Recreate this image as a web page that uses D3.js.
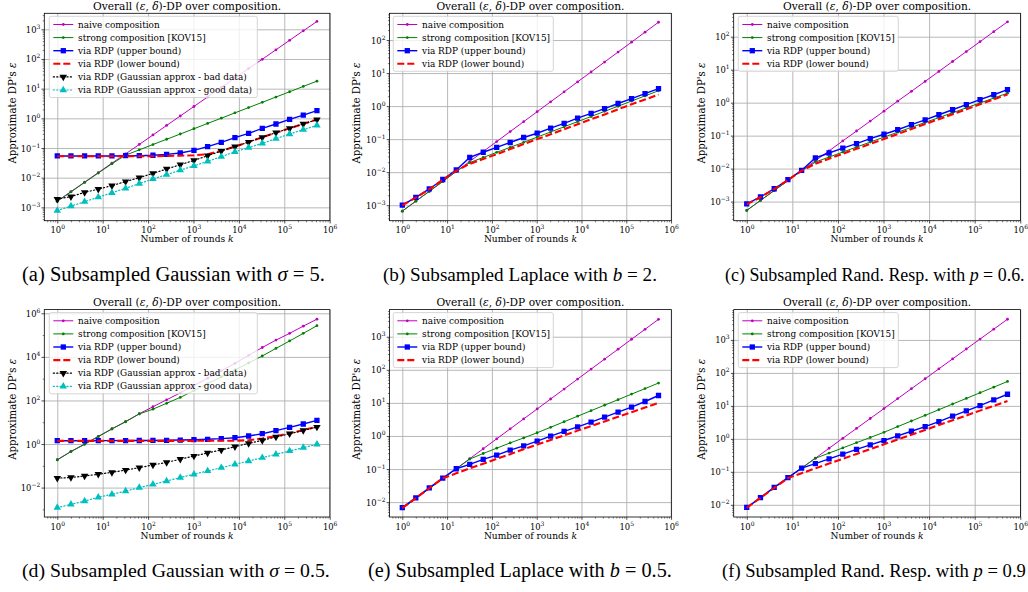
<!DOCTYPE html>
<html><head><meta charset="utf-8">
<script src="https://cdn.jsdelivr.net/npm/d3@7"></script>
<style>body{margin:0;background:#fff}svg{display:block}</style>
</head><body>
<svg id="c" width="1028" height="592"></svg>
<script>
// ---------- data ----------
const rounds = [1,2,4,8,16,32,64,128,256,512,1024,2048,4096,8192,16384,32768,65536,131072,262144,524288];
const seriesNames = ["naive composition","strong composition [KOV15]","via RDP (upper bound)","via RDP (lower bound)","via RDP (Gaussian approx - bad data)","via RDP (Gaussian approx - good data)"];
const xTickExps = [0,1,2,3,4,5,6];

// (a) Subsampled Gaussian sigma = 5
const aNaive  = [0.00162,0.00339,0.00708,0.0148,0.0309,0.0631,0.132,0.275,0.575,1.20,2.51,5.25,11.0,22.9,47.9,97.7,204,427,891,1840];
const aStrong = [0.0016,0.0033,0.0069,0.0143,0.0295,0.0575,0.0867,0.131,0.197,0.296,0.447,0.673,1.01,1.53,2.30,3.47,5.22,7.87,11.9,17.9];
const aUpper  = [0.054,0.054,0.054,0.054,0.054,0.055,0.055,0.057,0.061,0.068,0.083,0.111,0.155,0.223,0.312,0.46,0.645,0.92,1.29,1.81];
const aLower  = [0.053,0.053,0.053,0.053,0.053,0.053,0.053,0.053,0.054,0.055,0.057,0.062,0.080,0.112,0.160,0.23,0.33,0.46,0.65,0.91];
const aBad    = [0.0019,0.0023,0.0032,0.0041,0.0054,0.0074,0.010,0.014,0.0196,0.0274,0.038,0.055,0.079,0.111,0.159,0.229,0.33,0.46,0.645,0.90];
const aGood   = [0.00078,0.0011,0.00155,0.0022,0.0031,0.0044,0.0063,0.0091,0.0126,0.018,0.025,0.0355,0.051,0.074,0.103,0.144,0.206,0.297,0.414,0.58];
const aYExps  = [-3,-2,-1,0,1,2,3];

// (b) Subsampled Laplace b = 2
const bNaive  = [0.00066,0.00132,0.00264,0.00528,0.0106,0.0211,0.0422,0.0845,0.169,0.338,0.676,1.35,2.70,5.41,10.8,21.6,43.3,86.5,173,346];
const bStrong = [0.00066,0.00132,0.0026,0.0052,0.0105,0.0195,0.0278,0.0398,0.0565,0.080,0.115,0.165,0.236,0.338,0.484,0.693,0.99,1.42,2.04,2.92];
const bUpper  = [0.00100,0.00173,0.0031,0.0060,0.0117,0.028,0.040,0.056,0.079,0.112,0.151,0.214,0.30,0.43,0.60,0.84,1.2,1.69,2.40,3.4];
const bLower  = [0.00098,0.0017,0.0030,0.0058,0.011,0.0178,0.025,0.035,0.050,0.071,0.10,0.14,0.20,0.28,0.40,0.56,0.80,1.14,1.58,2.24];
const bYExps  = [-3,-2,-1,0,1,2];

// (c) Subsampled Rand. Resp. p = 0.6
const cNaive  = [0.00054,0.00108,0.00216,0.00432,0.00864,0.0173,0.0346,0.0691,0.138,0.276,0.553,1.11,2.21,4.42,8.85,17.7,35.4,70.8,142,283];
const cStrong = [0.00054,0.00108,0.00216,0.0043,0.0086,0.0158,0.0224,0.0318,0.045,0.0637,0.090,0.127,0.178,0.251,0.352,0.495,0.697,0.98,1.38,1.94];
const cUpper  = [0.00085,0.00138,0.00245,0.0046,0.0089,0.021,0.0297,0.042,0.057,0.081,0.11,0.151,0.215,0.30,0.43,0.61,0.87,1.23,1.74,2.47];
const cLower  = [0.00082,0.00135,0.0024,0.0045,0.0086,0.0141,0.020,0.028,0.040,0.056,0.079,0.112,0.158,0.224,0.316,0.447,0.63,0.89,1.26,1.78];
const cYExps  = [-3,-2,-1,0,1,2];

// (d) Subsampled Gaussian sigma = 0.5
const dNaive  = [0.19,0.457,1.0,2.24,5.01,10.7,24.5,51.3,107,224,479,1047,2291,5012,11749,26915,58884,120226,257040,537032];
const dStrong = [0.186,0.447,0.966,2.19,4.9,10.5,24.0,39.8,74.1,138,282,589,1202,2512,5248,10965,24547,53703,120226,269153];
const dUpper  = [1.42,1.42,1.42,1.43,1.43,1.44,1.45,1.46,1.48,1.52,1.58,1.65,1.76,1.95,2.33,2.97,4.1,5.8,8.3,12.2];
const dLower  = [1.40,1.40,1.40,1.40,1.40,1.40,1.40,1.40,1.40,1.40,1.40,1.41,1.41,1.42,1.50,1.80,2.3,3.1,4.4,6.2];
const dBad    = [0.027,0.029,0.034,0.041,0.050,0.064,0.082,0.109,0.144,0.20,0.28,0.39,0.53,0.75,1.07,1.47,2.1,2.97,4.2,6.0];
const dGood   = [0.0012,0.0017,0.0024,0.0036,0.0049,0.0069,0.010,0.014,0.020,0.029,0.041,0.058,0.082,0.117,0.166,0.236,0.338,0.48,0.68,0.97];
const dYExps  = [-2,0,2,4,6];

// (e) Subsampled Laplace b = 0.5
const eNaive  = [0.0064,0.0128,0.0256,0.0512,0.102,0.205,0.41,0.819,1.64,3.28,6.55,13.1,26.2,52.4,105,210,419,839,1678,3355];
const eStrong = [0.0064,0.0128,0.0256,0.0512,0.102,0.200,0.295,0.427,0.617,0.871,1.25,1.83,2.69,3.95,5.81,8.53,12.5,18.4,27.0,39.8];
const eUpper  = [0.0068,0.0135,0.027,0.053,0.102,0.138,0.195,0.263,0.372,0.50,0.70,0.99,1.37,1.89,2.62,3.7,5.25,7.4,11.0,16.7];
const eLower  = [0.0066,0.0132,0.0263,0.0525,0.0741,0.105,0.145,0.204,0.282,0.398,0.55,0.759,1.05,1.45,2.0,2.75,3.8,5.25,7.24,10.0];
const eYExps  = [-2,-1,0,1,2,3];

// (f) Subsampled Rand. Resp. p = 0.9
const fNaive  = [0.0081,0.0162,0.0324,0.0648,0.130,0.259,0.518,1.04,2.07,4.15,8.29,16.6,33.2,66.4,133,265,531,1062,2123,4247];
const fStrong = [0.0081,0.0162,0.0324,0.0648,0.130,0.257,0.37,0.532,0.766,1.10,1.58,2.35,3.48,5.16,7.66,11.4,16.8,25.0,37.0,55.0];
const fUpper  = [0.0083,0.0166,0.034,0.067,0.129,0.178,0.247,0.345,0.48,0.66,0.89,1.23,1.7,2.36,3.35,4.9,7.1,10.2,15.2,22.5];
const fLower  = [0.0081,0.0162,0.0324,0.0646,0.0912,0.127,0.178,0.249,0.348,0.488,0.682,0.955,1.34,1.87,2.62,3.66,5.13,7.18,10.0,14.1];
const fYExps  = [-2,-1,0,1,2,3];

const captions = [
  {lab:"(a) Subsampled Gaussian with ", sym:"σ", rest:" = 5."},
  {lab:"(b) Subsampled Laplace with ", sym:"b", rest:" = 2."},
  {lab:"(c) Subsampled Rand. Resp. with ", sym:"p", rest:" = 0.6."},
  {lab:"(d) Subsampled Gaussian with ", sym:"σ", rest:" = 0.5."},
  {lab:"(e) Subsampled Laplace with ", sym:"b", rest:" = 0.5."},
  {lab:"(f) Subsampled Rand. Resp. with ", sym:"p", rest:" = 0.9"}
];

// ---------- styles / layout ----------
const styles = [
  {color:"#bf00bf", lw:1.0, dash:null, marker:"dot"},
  {color:"#008000", lw:1.0, dash:null, marker:"dot"},
  {color:"#0000ff", lw:1.4, dash:null, marker:"square"},
  {color:"#ff0000", lw:2.1, dash:"7,3", marker:null},
  {color:"#000000", lw:1.2, dash:"1.2,2.2", marker:"down"},
  {color:"#00bfbf", lw:1.2, dash:"1.2,2.2", marker:"up"}
];
const cols = [
  {x0:44.3,x1:329.9,bx:49.3,bw:208,txt:174,ylab:13},
  {x0:389.5,x1:671.3,bx:393.3,bw:160,txt:128,ylab:357},
  {x0:733.7,x1:1020.5,bx:738.3,bw:160,txt:127.5,ylab:702}
];
const rowsL = [{y0:13.3,y1:220.7},{y0:309.6,y1:517}];
const panels = [
  {c:0,r:0,yd:[-3.45,3.54],yt:aYExps,data:[aNaive,aStrong,aUpper,aLower,aBad,aGood]},
  {c:1,r:0,yd:[-3.47,2.81],yt:bYExps,data:[bNaive,bStrong,bUpper,bLower]},
  {c:2,r:0,yd:[-3.58,2.71],yt:cYExps,data:[cNaive,cStrong,cUpper,cLower]},
  {c:0,r:1,yd:[-3.35,6.17],yt:dYExps,data:[dNaive,dStrong,dUpper,dLower,dBad,dGood]},
  {c:1,r:1,yd:[-2.45,3.82],yt:eYExps,data:[eNaive,eStrong,eUpper,eLower]},
  {c:2,r:1,yd:[-2.37,3.92],yt:fYExps,data:[fNaive,fStrong,fUpper,fLower]}
];
const capPos = [{x:22,y:281,w:303},{x:383,y:281,w:274},{x:725,y:281,w:300},{x:22,y:577,w:308},{x:368,y:577,w:304},{x:722,y:577,w:304}];

const FONT = "'DejaVu Serif', serif";
const svg = d3.select("#c");

function fit(sel, target) {
  const base = parseFloat(sel.attr("font-size"));
  const w = sel.node().getComputedTextLength();
  if (w > 0) sel.attr("font-size", (base * target / w).toFixed(2) + "px");
}
function drawMarker(g, type, cx, cy, color) {
  if (!type) return;
  if (type === "dot") {
    g.append("circle").attr("cx",cx).attr("cy",cy).attr("r",1.4).attr("fill",color);
  } else if (type === "square") {
    g.append("path").attr("d", d3.symbol(d3.symbolSquare, 28)()).attr("transform",`translate(${cx},${cy})`).attr("fill",color);
  } else {
    const rot = type === "down" ? 180 : 0;
    g.append("path").attr("d", d3.symbol(d3.symbolTriangle, 24)()).attr("transform",`translate(${cx},${cy}) rotate(${rot})`).attr("fill",color);
  }
}
function expText(e){ return e < 0 ? "\u2212" + (-e) : String(e); }
function powLabel(sel, e){
  sel.text(null);
  sel.append("tspan").text("10");
  sel.append("tspan").attr("dy",-4).attr("font-size","6px").text(expText(e));
}

panels.forEach((p, pi) => {
  const C = cols[p.c], R = rowsL[p.r];
  const x = d3.scaleLog().domain([Math.pow(10,-0.286), Math.pow(10,6.005)]).range([C.x0, C.x1]);
  const y = d3.scaleLog().domain([Math.pow(10,p.yd[0]), Math.pow(10,p.yd[1])]).range([R.y1, R.y0]);
  const g = svg.append("g");
  const w = C.x1 - C.x0, h = R.y1 - R.y0;
  const clipId = "clip" + pi;
  g.append("clipPath").attr("id",clipId).append("rect").attr("x",C.x0).attr("y",R.y0).attr("width",w).attr("height",h);

  const xMajor = xTickExps.map(e => Math.pow(10,e));
  const yMajor = p.yt.map(e => Math.pow(10,e));
  const xMinor = [];
  for (let e = -1; e < 6; e++) for (let m = 2; m < 10; m++) { const v = m*Math.pow(10,e); if (v >= x.domain()[0] && v <= x.domain()[1]) xMinor.push(v); }
  const yMinor = [];
  const step = p.yt[1]-p.yt[0];
  if (step === 1) {
    for (let e = Math.floor(p.yd[0]); e < Math.ceil(p.yd[1]); e++) for (let m = 2; m < 10; m++) { const v = m*Math.pow(10,e); if (v >= y.domain()[0] && v <= y.domain()[1]) yMinor.push(v); }
  } else {
    for (let e = Math.floor(p.yd[0]); e <= Math.ceil(p.yd[1]); e++) { if (e % 2 !== 0) { const v = Math.pow(10,e); if (v >= y.domain()[0] && v <= y.domain()[1]) yMinor.push(v); } }
  }

  // grid
  const gx = g.append("g").attr("transform",`translate(0,${R.y1})`)
    .call(d3.axisBottom(x).tickValues(xMajor).tickSize(-h).tickFormat(""));
  gx.select(".domain").remove();
  gx.selectAll("line").attr("stroke","#b0b0b0").attr("stroke-width",0.9);
  const gy = g.append("g").attr("transform",`translate(${C.x0},0)`)
    .call(d3.axisLeft(y).tickValues(yMajor).tickSize(-w).tickFormat(""));
  gy.select(".domain").remove();
  gy.selectAll("line").attr("stroke","#b0b0b0").attr("stroke-width",0.9);

  // series
  const plot = g.append("g").attr("clip-path",`url(#${clipId})`);
  p.data.forEach((vals, si) => {
    const st = styles[si];
    const pts = rounds.map((k,i) => [x(k), y(vals[i])]);
    plot.append("path").attr("d", d3.line()(pts)).attr("fill","none")
      .attr("stroke",st.color).attr("stroke-width",st.lw)
      .attr("stroke-dasharray",st.dash).attr("stroke-linecap", st.dash && st.dash.startsWith("1.2") ? "round" : "butt");
    pts.forEach(pt => drawMarker(plot, st.marker, pt[0], pt[1], st.color));
  });

  // frame
  g.append("rect").attr("x",C.x0).attr("y",R.y0).attr("width",w).attr("height",h)
    .attr("fill","none").attr("stroke","#000").attr("stroke-width",0.8);

  // ticks
  const ax = g.append("g").attr("transform",`translate(0,${R.y1})`)
    .call(d3.axisBottom(x).tickValues(xMajor).tickSize(2.8).tickFormat(""));
  ax.select(".domain").remove();
  ax.selectAll("line").attr("stroke","#000").attr("stroke-width",0.7);
  ax.selectAll(".tick").append("text").attr("y",12.5).attr("text-anchor","middle")
    .attr("font-family",FONT).attr("font-size","8.4px").attr("fill","#000")
    .each(function(d){ powLabel(d3.select(this), Math.round(Math.log10(d))); });
  const axm = g.append("g").attr("transform",`translate(0,${R.y1})`)
    .call(d3.axisBottom(x).tickValues(xMinor).tickSize(1.6).tickFormat(""));
  axm.select(".domain").remove();
  axm.selectAll("line").attr("stroke","#000").attr("stroke-width",0.5);

  const ay = g.append("g").attr("transform",`translate(${C.x0},0)`)
    .call(d3.axisLeft(y).tickValues(yMajor).tickSize(2.8).tickFormat(""));
  ay.select(".domain").remove();
  ay.selectAll("line").attr("stroke","#000").attr("stroke-width",0.7);
  ay.selectAll(".tick").append("text").attr("x",-4).attr("y",3).attr("text-anchor","end")
    .attr("font-family",FONT).attr("font-size","8.4px").attr("fill","#000")
    .each(function(d){ powLabel(d3.select(this), Math.round(Math.log10(d))); });
  const aym = g.append("g").attr("transform",`translate(${C.x0},0)`)
    .call(d3.axisLeft(y).tickValues(yMinor).tickSize(1.6).tickFormat(""));
  aym.select(".domain").remove();
  aym.selectAll("line").attr("stroke","#000").attr("stroke-width",0.5);

  // title
  const t = g.append("text").attr("x",(C.x0+C.x1)/2).attr("y",R.y0-3.5).attr("text-anchor","middle")
    .attr("font-family",FONT).attr("font-size","10.3px").attr("fill","#000");
  t.append("tspan").text("Overall (");
  t.append("tspan").attr("font-style","italic").text("ε");
  t.append("tspan").text(", ");
  t.append("tspan").attr("font-style","italic").text("δ");
  t.append("tspan").text(")-DP over composition.");
  fit(t, 188);

  // axis labels
  const xl = g.append("text").attr("x",(C.x0+C.x1)/2).attr("y",R.y1+21.5).attr("text-anchor","middle")
    .attr("font-family",FONT).attr("font-size","8.6px").attr("fill","#000");
  xl.append("tspan").text("Number of rounds ");
  xl.append("tspan").attr("font-style","italic").text("k");
  fit(xl, 93);
  const yl = g.append("text").attr("transform",`translate(${C.ylab+3},${(R.y0+R.y1)/2 - 4}) rotate(-90)`).attr("text-anchor","middle")
    .attr("font-family",FONT).attr("font-size","8.6px").attr("fill","#000");
  yl.append("tspan").text("Approximate DP's ");
  yl.append("tspan").attr("font-style","italic").text("ε");
  fit(yl, 101);

  // legend
  const n = p.data.length;
  const bx = C.bx, by = R.y0 + 3, rh = 13.1;
  const lg = g.append("g");
  lg.append("rect").attr("x",bx).attr("y",by).attr("width",C.bw).attr("height",n*rh+2.6)
    .attr("rx",2).attr("fill","#fff").attr("fill-opacity",0.8).attr("stroke","#cccccc").attr("stroke-width",0.8);
  const texts = [];
  for (let i = 0; i < n; i++) {
    const st = styles[i];
    const cy = by + 8.2 + i*rh;
    lg.append("line").attr("x1",bx+4).attr("x2",bx+24).attr("y1",cy).attr("y2",cy)
      .attr("stroke",st.color).attr("stroke-width",st.lw).attr("stroke-dasharray",st.dash)
      .attr("stroke-linecap", st.dash && st.dash.startsWith("1.2") ? "round" : "butt");
    drawMarker(lg, st.marker, bx+14, cy, st.color);
    texts.push(lg.append("text").attr("x",bx+28.8).attr("y",cy+3).attr("font-family",FONT).attr("font-size","8.5px")
      .attr("fill","#000").text(seriesNames[i]));
  }
  const maxW = d3.max(texts, s => s.node().getComputedTextLength());
  const fs = (8.5 * C.txt / maxW).toFixed(2) + "px";
  texts.forEach(s => s.attr("font-size", fs));

  // caption
  const cp = capPos[pi], cap = captions[pi];
  const ct = svg.append("text").attr("x",cp.x).attr("y",cp.y).attr("font-family","'Liberation Serif', 'Times New Roman', serif")
    .attr("font-size","18px").attr("fill","#000");
  ct.append("tspan").text(cap.lab);
  ct.append("tspan").attr("font-style","italic").text(cap.sym);
  ct.append("tspan").text(cap.rest);
  fit(ct, cp.w);
});
</script>
</body></html>
